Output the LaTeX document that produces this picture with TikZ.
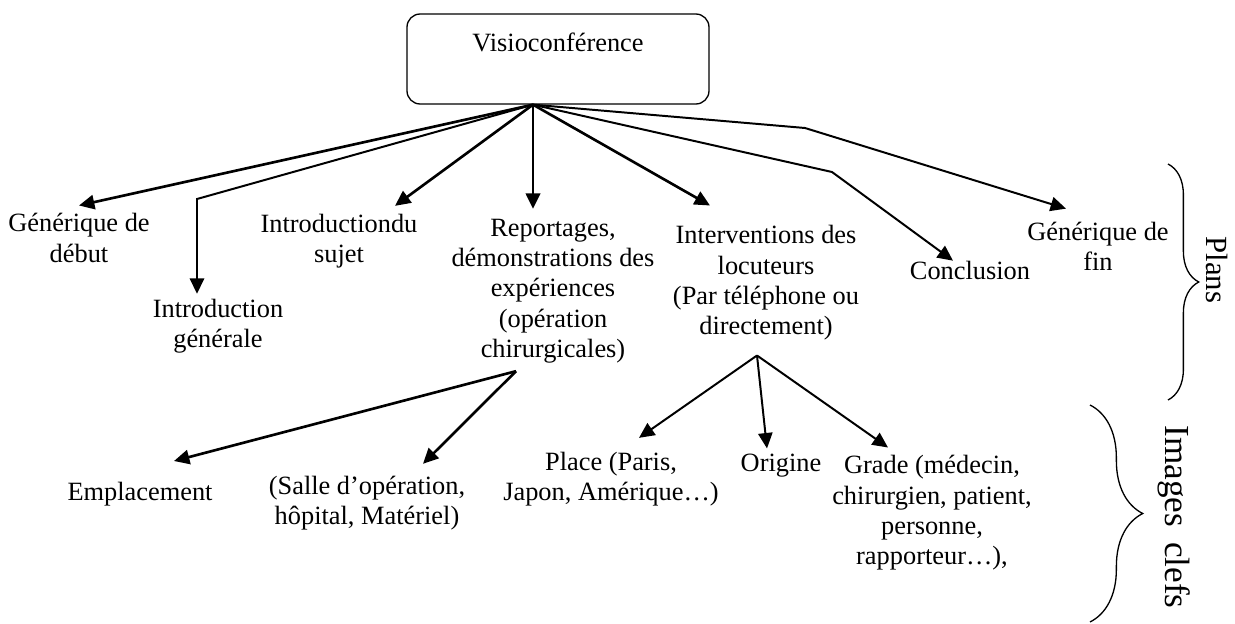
\documentclass[tikz,border=0pt]{standalone}
\usepackage{fontspec}
\setmainfont{Liberation Serif}
\usetikzlibrary{arrows.meta,decorations.pathreplacing}

\begin{document}
\begin{tikzpicture}[x=.455pt,y=-.455pt,
  lbl/.style={align=center,inner sep=3pt,font=\fontsize{12}{13.8}\selectfont},
  arr/.style={line width=1.2pt,-{Triangle[length=7pt,width=6.5pt]}},
  arrb/.style={arr,line width=.9pt},
  accol/.style={decorate,decoration={brace,amplitude=#1},line width=.6pt}]
\useasboundingbox (0,0) rectangle (1235,624);
% boite du haut
\node[draw,line width=.6pt,rounded corners=6pt,minimum width=302*.455pt,minimum height=90*.455pt,
  align=center,font=\fontsize{12}{13.8}\selectfont] (visio) at (558,59) {\raisebox{-3pt}{Visioconférence}\\\strut};
\coordinate (hub) at ([shift={(-25,0)}]visio.south);

% plans
\node[lbl] (gdeb) at (79,238) {Générique de\\début};
\node[lbl] (intgen) at (218,326) {Introduction\\générale};
\node[lbl] (intsuj) at (339,241) {Introductiondu\\sujet};
\node[lbl] (report) at (553,291) {Reportages,\\démonstrations des\\expériences\\(opération\\chirurgicales)};
\node[lbl] (interv) at (766,283) {Interventions des\\locuteurs\\(Par téléphone ou\\directement)};
\node[lbl] (concl) at (970,270) {Conclusion};
\node[lbl] (gfin) at (1098,246) {Générique de\\fin};

% images clefs
\node[lbl] (empl) at (140,494) {Emplacement};
\node[lbl] (salle) at (367,503) {(Salle d’opération,\\hôpital, Matériel)};
\node[lbl] (place) at (611,479) {Place (Paris,\\Japon, Amérique…)};
\node[lbl] (orig) at (781,466) {Origine};
\node[lbl] (grade) at (932,513) {Grade (médecin,\\chirurgien, patient,\\personne,\\rapporteur…),};

\coordinate (igbend) at (197,199);
\coordinate (cbend) at (832,172);
\coordinate (fbend) at (805,128);
\coordinate (rhub) at ([shift={(-37,1)}]report.south);
\coordinate (ihub) at ([shift={(-9,8)}]interv.south);

\draw[arr] (hub) -- ([shift={(0,-1)}]gdeb.north);
\draw[arrb] (hub) -- (igbend) -- ([shift={(0,2)}]igbend |- intgen.north);
\draw[arr] (hub) -- ([shift={(56,-1)}]intsuj.north);
\draw[arr] (hub) -- ([shift={(0,-3)}]hub |- report.north);
\draw[arr] (hub) -- ([shift={(-56,-13)}]interv.north);
\draw[arrb] (hub) -- (cbend) -- ([shift={(-17,7)}]concl.north);
\draw[arrb] (hub) -- (fbend) -- ([shift={(-32,-6)}]gfin.north);

\draw[arr] (rhub) -- ([shift={(34,-14)}]empl.north);
\draw[arr] (rhub) -- ([shift={(56,-5)}]salle.north);
\draw[arrb] (ihub) -- ([shift={(28,-7)}]place.north);
\draw[arrb] (ihub) -- ([shift={(-14,1)}]orig.north);
\draw[arrb] (ihub) -- ([shift={(-44,-1)}]grade.north);

% accolades
\draw[accol=14pt] (1168,164) -- (1168,400);
\node[rotate=-90,font=\fontsize{14}{16}\selectfont] (plans) at (1217,270) {Plans};
\draw[accol=24pt] (1090,405) -- (1090,622);
\node[rotate=-90,font=\fontsize{16}{18}\selectfont] (imgs) at (1174,517) {Images\hspace{7pt}clefs};
\end{tikzpicture}
\end{document}
